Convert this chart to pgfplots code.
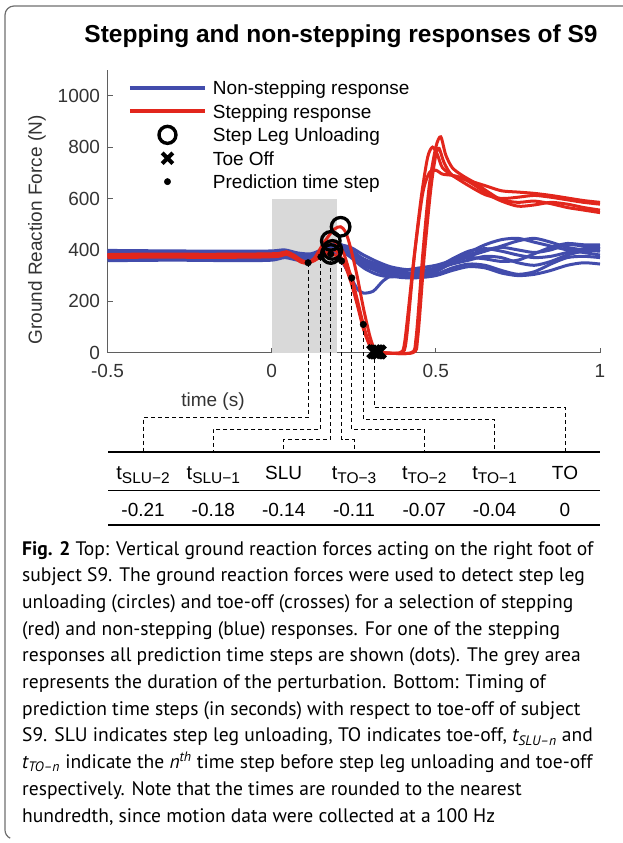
\documentclass[border=0pt]{standalone}
\usepackage{pgfplots}
\pgfplotsset{compat=1.18}
\usepackage{fontspec}
\setmainfont{Liberation Sans}
\newfontfamily\capfont{PT Sans}
\definecolor{bl}{RGB}{66,76,172}
\definecolor{rd}{RGB}{226,38,28}
\definecolor{axgray}{RGB}{95,95,95}
\definecolor{lblgray}{RGB}{51,51,51}
\definecolor{shade}{RGB}{217,217,217}
\definecolor{framegray}{RGB}{110,110,110}
\pgfplotsset{
  wideline/.style={legend image code/.code={\draw[##1] (0pt,0pt) -- (75pt,0pt);}},
  widemark/.style={legend image code/.code={\path[draw=none,fill=none] (0pt,0pt) -- (75pt,0pt); \draw[##1] plot coordinates {(37.5pt,0pt)};}},
  bline/.style={bl, line width=3pt, smooth, tension=0.45, no marks, forget plot},
  rline/.style={rd, line width=3pt, smooth, tension=0.45, no marks, forget plot},
  dline/.style={black, line width=0.9pt, dash pattern=on 4pt off 3pt, no marks, forget plot},
}
\newcommand{\fs}[1]{\fontsize{#1}{#1}\selectfont}
\begin{document}
\begin{tikzpicture}[x=1pt,y=1pt]
\path[use as bounding box] (0pt,0pt) rectangle (623pt,-843pt);
% frame
\draw[framegray, line width=1.2pt] (623pt,-6pt) -- (14pt,-6pt) arc[start angle=90,end angle=180,radius=9pt] -- (5pt,-830pt) arc[start angle=180,end angle=245,radius=9pt];
% title
\node[anchor=base, font=\fs{24.5}\bfseries] at (341pt,-43pt) {Stepping and non-stepping responses of S9};

\begin{axis}[
  at={(107.5pt,-352.7pt)}, anchor=south west,
  scale only axis, width=492.5pt, height=282.7pt,
  xmin=-0.5, xmax=1, ymin=0, ymax=1100,
  axis x line*=bottom, axis y line*=left,
  x axis line style={-}, y axis line style={-},
  axis line style={axgray, line width=0.8pt},
  xtick={-0.5,0,0.5,1}, xticklabels={-0.5,0,0.5,1},
  ytick={0,200,400,600,800,1000}, yticklabels={0,200,400,600,800,1000},
  tick style={axgray, line width=0.8pt},
  major tick length=5pt,
  tick align=inside,
  ticklabel style={font=\fs{19}, text=lblgray},
  xticklabel style={yshift=-8pt},
  yticklabel style={xshift=-4pt},
  clip=false,
  legend style={at={(axis description cs:0.0416,0.9671)}, anchor=north west,
    draw=none, fill=none, inner sep=0pt, outer sep=0pt,
    font=\fs{19}, row sep=5.9pt, column sep=6pt,
    nodes={inner sep=0pt, text height=15.5pt, text depth=2pt}},
  legend cell align=left,
]
\addlegendimage{wideline, bl, line width=4pt}
\addlegendentry{Non-stepping response}
\addlegendimage{wideline, rd, line width=4pt}
\addlegendentry{Stepping response}
\addlegendimage{widemark, only marks, mark=o, mark size=8.5pt, black, line width=3.4pt, mark options={line width=3.4pt}}
\addlegendentry{Step Leg Unloading}
\addlegendimage{widemark, only marks, mark=x, mark size=7.5pt, black, line width=4.2pt, mark options={line width=4.2pt}}
\addlegendentry{Toe Off}
\addlegendimage{widemark, only marks, mark=*, mark size=3.2pt, black}
\addlegendentry{Prediction time step}

% perturbation
\addplot[fill=shade, draw=none, forget plot] coordinates {(0,0) (0,600) (0.2,600) (0.2,0)} -- cycle;

% non-stepping
\addplot[bline] coordinates {(-0.5,398)(-0.3,396)(-0.1,395)(0,396)(0.04,400)(0.08,388)(0.12,385)(0.16,405)(0.2,425)(0.24,400)(0.28,365)(0.32,345)(0.36,330)(0.4,315)(0.45,305)(0.5,320)(0.55,350)(0.6,380)(0.65,400)(0.7,410)(0.75,400)(0.8,390)(0.85,400)(0.9,420)(0.95,415)(1,405)};
\addplot[bline] coordinates {(-0.5,385)(-0.3,386)(-0.1,384)(0,385)(0.04,392)(0.08,378)(0.12,375)(0.16,392)(0.2,380)(0.23,320)(0.26,250)(0.28,232)(0.31,240)(0.34,280)(0.38,310)(0.42,300)(0.46,298)(0.5,315)(0.55,350)(0.6,375)(0.65,395)(0.7,415)(0.75,435)(0.8,445)(0.85,430)(0.9,410)(0.95,400)(1,395)};
\addplot[bline] coordinates {(-0.5,375)(-0.3,378)(-0.1,376)(0,378)(0.04,385)(0.08,372)(0.12,372)(0.16,395)(0.2,410)(0.24,380)(0.28,340)(0.32,320)(0.36,305)(0.4,298)(0.45,295)(0.5,305)(0.55,330)(0.6,345)(0.65,340)(0.7,320)(0.75,305)(0.8,315)(0.85,345)(0.9,370)(0.95,375)(1,370)};
\addplot[bline] coordinates {(-0.5,365)(-0.3,368)(-0.1,366)(0,368)(0.04,378)(0.08,365)(0.12,368)(0.16,390)(0.2,415)(0.24,395)(0.28,355)(0.32,330)(0.36,315)(0.4,320)(0.45,330)(0.5,340)(0.55,360)(0.6,390)(0.65,420)(0.7,440)(0.75,445)(0.8,430)(0.85,415)(0.9,400)(0.95,390)(1,380)};
\addplot[bline] coordinates {(-0.5,358)(-0.3,360)(-0.1,358)(0,360)(0.04,370)(0.08,360)(0.12,362)(0.16,385)(0.2,400)(0.24,375)(0.28,345)(0.32,318)(0.36,300)(0.4,292)(0.45,292)(0.5,300)(0.55,320)(0.6,335)(0.65,330)(0.7,310)(0.75,300)(0.8,305)(0.85,320)(0.9,340)(0.95,350)(1,345)};
\addplot[bline] coordinates {(-0.5,392)(-0.3,390)(-0.1,390)(0,391)(0.04,397)(0.08,382)(0.12,380)(0.16,398)(0.2,420)(0.24,410)(0.28,380)(0.32,355)(0.36,335)(0.4,325)(0.45,320)(0.5,330)(0.55,355)(0.6,370)(0.65,365)(0.7,355)(0.75,360)(0.8,385)(0.85,410)(0.9,425)(0.95,420)(1,420)};
\addplot[bline] coordinates {(-0.5,380)(-0.3,382)(-0.1,380)(0,381)(0.04,389)(0.08,375)(0.12,375)(0.16,393)(0.2,405)(0.24,372)(0.28,330)(0.32,305)(0.36,295)(0.4,300)(0.45,310)(0.5,325)(0.55,345)(0.6,360)(0.65,375)(0.7,370)(0.75,350)(0.8,340)(0.85,355)(0.9,380)(0.95,395)(1,400)};
\addplot[bline] coordinates {(-0.5,370)(-0.3,372)(-0.1,371)(0,372)(0.04,382)(0.08,368)(0.12,370)(0.16,388)(0.2,402)(0.24,385)(0.28,360)(0.32,340)(0.36,320)(0.4,310)(0.45,312)(0.5,330)(0.55,365)(0.6,395)(0.65,405)(0.7,395)(0.75,380)(0.8,370)(0.85,375)(0.9,390)(0.95,405)(1,410)};

% stepping
\addplot[rline] coordinates {(-0.5,382)(-0.35,384)(-0.2,383)(-0.05,384)(0.02,386)(0.045,393)(0.07,378)(0.09,360)(0.11,352)(0.13,362)(0.16,388)(0.185,400)(0.2,392)(0.22,350)(0.24,280)(0.26,190)(0.28,90)(0.3,25)(0.318,3)(0.335,0)(0.395,0)(0.41,50)(0.435,380)(0.46,620)(0.48,700)(0.5,710)(0.52,695)(0.55,690)(0.58,680)(0.62,650)(0.66,615)(0.7,590)(0.75,570)(0.8,575)(0.85,585)(0.9,578)(0.95,565)(1,555)};
\addplot[rline] coordinates {(-0.5,370)(-0.35,372)(-0.2,371)(-0.05,372)(0.02,375)(0.045,383)(0.07,368)(0.09,352)(0.11,348)(0.13,365)(0.155,410)(0.18,435)(0.2,425)(0.22,385)(0.24,300)(0.26,200)(0.28,100)(0.3,30)(0.318,3)(0.335,0)(0.425,0)(0.44,60)(0.46,380)(0.48,650)(0.5,800)(0.515,840)(0.53,770)(0.55,720)(0.58,690)(0.62,660)(0.66,625)(0.7,595)(0.75,585)(0.8,590)(0.85,580)(0.9,565)(0.95,555)(1,545)};
\addplot[rline] coordinates {(-0.5,378)(-0.35,380)(-0.2,379)(-0.05,380)(0.02,383)(0.045,390)(0.07,375)(0.09,356)(0.11,350)(0.13,368)(0.16,430)(0.19,480)(0.21,490)(0.225,470)(0.24,410)(0.26,300)(0.28,170)(0.3,60)(0.315,8)(0.33,0)(0.43,0)(0.445,60)(0.465,380)(0.485,640)(0.5,770)(0.51,795)(0.525,740)(0.55,690)(0.6,670)(0.65,650)(0.7,630)(0.75,625)(0.8,620)(0.85,612)(0.9,602)(0.95,592)(1,585)};
\addplot[rline] coordinates {(-0.5,375)(-0.35,377)(-0.2,376)(-0.05,378)(0.02,380)(0.045,388)(0.07,372)(0.09,355)(0.111,350)(0.13,358)(0.15,373)(0.18,384)(0.2,375)(0.213,357)(0.23,330)(0.244,291)(0.26,210)(0.279,110)(0.295,40)(0.313,4)(0.33,0)(0.39,0)(0.405,40)(0.43,330)(0.455,600)(0.475,760)(0.49,800)(0.505,770)(0.52,720)(0.55,690)(0.6,650)(0.65,615)(0.7,600)(0.75,605)(0.8,612)(0.85,605)(0.9,595)(0.95,585)(1,578)};

% connectors (prediction time steps -> table columns)
\addplot[dline] coordinates {(0.111,350) (0.111,-251.4) (-0.3917,-251.4) (-0.3917,-387.5)};
\addplot[dline] coordinates {(0.150,373) (0.150,-298) (-0.1776,-298) (-0.1776,-387.5)};
\addplot[dline] coordinates {(0.180,384) (0.180,-336.6) (0.0366,-336.6) (0.0366,-387.5)};
\addplot[dline] coordinates {(0.213,357) (0.213,-336.6) (0.2508,-336.6) (0.2508,-387.5)};
\addplot[dline] coordinates {(0.244,291) (0.244,-298) (0.4649,-298) (0.4649,-387.5)};
\addplot[dline] coordinates {(0.279,110) (0.279,-260) (0.6791,-260) (0.6791,-387.5)};
\addplot[dline] coordinates {(0.313,4) (0.313,-212.5) (0.8935,-212.5) (0.8935,-387.5)};

% prediction time steps
\addplot[only marks, mark=*, mark size=3.3pt, black, forget plot] coordinates {(0.111,350)(0.150,373)(0.180,384)(0.213,357)(0.244,291)(0.279,110)(0.313,4)};
% step leg unloading
\addplot[only marks, mark=o, mark size=9.3pt, black, line width=3.3pt, forget plot] coordinates {(0.180,384)(0.185,400)(0.18,435)(0.21,490)};
% toe off
\addplot[only marks, mark=x, mark size=8.5pt, black, line width=4.5pt, forget plot] coordinates {(0.311,4)(0.317,3)(0.322,3)(0.328,3)};
\end{axis}

% axis labels
\node[font=\fs{19}, text=lblgray] at (213pt,-401.7pt) {time (s)};
\node[font=\fs{19}, text=lblgray, rotate=90] at (37pt,-230pt) {Ground Reaction Force (N)};

% table
\draw[black, line width=2.2pt] (108pt,-452.3pt) -- (600pt,-452.3pt);
\draw[black, line width=1pt] (108pt,-490.7pt) -- (600pt,-490.7pt);
\draw[black, line width=2.2pt] (108pt,-525pt) -- (600pt,-525pt);
\newcommand{\tsub}[1]{{\fs{20}t}\raisebox{-4pt}{\fs{15.5}#1}}
\foreach \xc/\lab in {143.1/\tsub{SLU−2}, 213.4/\tsub{SLU−1}, 283.7/SLU, 354.0/\tsub{TO−3}, 424.3/\tsub{TO−2}, 494.6/\tsub{TO−1}, 565.0/TO}
  \node[anchor=base, font=\fs{19}, inner sep=0pt] at (\xc pt,-479pt) {\lab};
\foreach \xc/\v in {143.1/-0.21, 213.4/-0.18, 283.7/-0.14, 354.0/-0.11, 424.3/-0.07, 494.6/-0.04, 565.0/0}
  \node[anchor=base, font=\fs{19}, inner sep=0pt] at (\xc pt,-516.7pt) {\v};

% caption
\begin{scope}[every node/.style={anchor=base west, inner sep=0pt, font=\capfont\fs{19.55}}]
\node at (22pt,-555.0pt) {{\bfseries Fig. 2} Top: Vertical ground reaction forces acting on the right foot of};
\node at (22pt,-581.7pt) {subject S9. The ground reaction forces were used to detect step leg};
\node at (22pt,-608.4pt) {unloading (circles) and toe-off (crosses) for a selection of stepping};
\node at (22pt,-635.1pt) {(red) and non-stepping (blue) responses. For one of the stepping};
\node at (22pt,-661.8pt) {responses all prediction time steps are shown (dots). The grey area};
\node at (22pt,-688.5pt) {represents the duration of the perturbation. Bottom: Timing of};
\node at (22pt,-715.2pt) {prediction time steps (in seconds) with respect to toe-off of subject};
\node at (22pt,-741.9pt) {S9. SLU indicates step leg unloading, TO indicates toe-off, {\itshape t\textsubscript{SLU–n}} and};
\node at (22pt,-768.6pt) {{\itshape t\textsubscript{TO–n}} indicate the {\itshape n\textsuperscript{th}} time step before step leg unloading and toe-off};
\node at (22pt,-795.3pt) {respectively. Note that the times are rounded to the nearest};
\node at (22pt,-822.0pt) {hundredth, since motion data were collected at a 100 Hz};
\end{scope}
\end{tikzpicture}
\end{document}
